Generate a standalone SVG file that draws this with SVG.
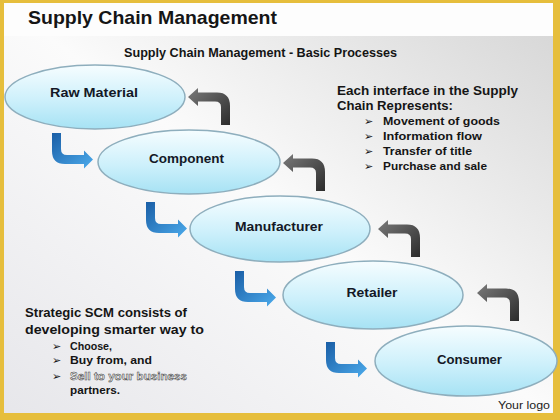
<svg xmlns="http://www.w3.org/2000/svg" width="560" height="420" viewBox="0 0 560 420">
<defs>
<linearGradient id="bg" x1="1" y1="0" x2="0" y2="1">
<stop offset="0" stop-color="#d4d4d4"/>
<stop offset="0.5" stop-color="#fbfbfb"/>
<stop offset="1" stop-color="#e6e6ea"/>
</linearGradient>
<linearGradient id="ell" x1="0" y1="0" x2="0" y2="1">
<stop offset="0" stop-color="#f6fdff"/>
<stop offset="0.55" stop-color="#cdf0fb"/>
<stop offset="1" stop-color="#a6e2f4"/>
</linearGradient>
<linearGradient id="blue" x1="0" y1="0" x2="1" y2="1">
<stop offset="0" stop-color="#1a5ea6"/>
<stop offset="1" stop-color="#4cabec"/>
</linearGradient>
<linearGradient id="gray" x1="1" y1="1" x2="0" y2="0">
<stop offset="0" stop-color="#2c2c2c"/>
<stop offset="1" stop-color="#7a7a7a"/>
</linearGradient>
<path id="barrow" d="M0,0 H9 V16 Q9,22 15,22 H32 V17.5 L41,26.5 L32,35.5 V31 H13 Q0,31 0,18 Z"/>
<path id="garrow" d="M0,0 L10,-9 V-4.5 H29 Q42,-4.5 42,9 V28 H33 V10 Q33,4.5 27,4.5 H10 V9 Z"/>
</defs>
<style>
.node ellipse{fill:url(#ell);stroke:#8eaebd;stroke-width:1.5}
.lbl{font-family:"Liberation Sans",Arial,sans-serif;font-weight:bold;font-size:12.5px;fill:#141826;text-anchor:middle}
.t{font-family:"Liberation Sans",Arial,sans-serif;font-weight:bold;fill:#151515}
.b{font-family:"DejaVu Sans",sans-serif;font-size:11px;fill:#151515}
.ba{fill:url(#blue)}
.ga{fill:url(#gray)}
</style>
<rect x="0" y="0" width="560" height="420" fill="url(#bg)"/>
<rect x="0" y="0" width="560" height="36" fill="#fdfdfd"/>
<path d="M0,0 H560 V420 H0 Z M4,3 V413 H553 V3 Z" fill="#e6be3c" fill-rule="evenodd"/>

<text class="t" x="28" y="24" font-size="19" textLength="249" lengthAdjust="spacingAndGlyphs">Supply Chain Management</text>
<text class="t" x="124" y="57" font-size="12.5" textLength="273" lengthAdjust="spacingAndGlyphs">Supply Chain Management - Basic Processes</text>

<g id="connectors">
<use href="#barrow" class="ba" x="52" y="133"/>
<use href="#barrow" class="ba" x="146" y="202"/>
<use href="#barrow" class="ba" x="235" y="271"/>
<use href="#barrow" class="ba" x="326" y="342"/>
<use href="#garrow" class="ga" x="188" y="97"/>
<use href="#garrow" class="ga" x="283" y="163"/>
<use href="#garrow" class="ga" x="378" y="229"/>
<use href="#garrow" class="ga" x="477" y="293"/>
</g>

<g id="raw-material" class="node">
<ellipse cx="95" cy="97" rx="90" ry="32"/>
<text class="lbl" x="94" y="97" textLength="88" lengthAdjust="spacingAndGlyphs">Raw Material</text>
</g>
<g id="component" class="node">
<ellipse cx="189" cy="162" rx="91" ry="32"/>
<text class="lbl" x="186.5" y="163" textLength="75" lengthAdjust="spacingAndGlyphs">Component</text>
</g>
<g id="manufacturer" class="node">
<ellipse cx="280" cy="229" rx="90" ry="33"/>
<text class="lbl" x="279" y="231" textLength="88" lengthAdjust="spacingAndGlyphs">Manufacturer</text>
</g>
<g id="retailer" class="node">
<ellipse cx="373" cy="295" rx="90" ry="34"/>
<text class="lbl" x="372" y="297" textLength="51" lengthAdjust="spacingAndGlyphs">Retailer</text>
</g>
<g id="consumer" class="node">
<ellipse cx="466" cy="361" rx="91" ry="35"/>
<text class="lbl" x="469.5" y="364" textLength="65" lengthAdjust="spacingAndGlyphs">Consumer</text>
</g>

<g id="interface-notes">
<text class="t" x="337" y="95" font-size="12.5" textLength="181" lengthAdjust="spacingAndGlyphs">Each interface in the Supply</text>
<text class="t" x="337" y="110" font-size="12.5" textLength="116" lengthAdjust="spacingAndGlyphs">Chain Represents:</text>
<text class="b" x="364" y="125">➢</text>
<text class="b" x="364" y="140">➢</text>
<text class="b" x="364" y="155">➢</text>
<text class="b" x="364" y="170">➢</text>
<text class="t" x="383" y="125" font-size="11.5" textLength="117" lengthAdjust="spacingAndGlyphs">Movement of goods</text>
<text class="t" x="383" y="140" font-size="11.5" textLength="99" lengthAdjust="spacingAndGlyphs">Information flow</text>
<text class="t" x="383" y="155" font-size="11.5" textLength="89" lengthAdjust="spacingAndGlyphs">Transfer of title</text>
<text class="t" x="383" y="170" font-size="11.5" textLength="104" lengthAdjust="spacingAndGlyphs">Purchase and sale</text>
</g>

<g id="strategic-notes">
<text class="t" x="25" y="317" font-size="13" textLength="162" lengthAdjust="spacingAndGlyphs">Strategic SCM consists of</text>
<text class="t" x="25" y="334" font-size="13" textLength="179" lengthAdjust="spacingAndGlyphs">developing smarter way to</text>
<text class="b" x="52" y="350">➢</text>
<text class="b" x="52" y="364">➢</text>
<text class="b" x="52" y="380">➢</text>
<text class="t" x="70" y="350" font-size="11.5" textLength="42" lengthAdjust="spacingAndGlyphs">Choose,</text>
<text class="t" x="70" y="364" font-size="11.5" textLength="82" lengthAdjust="spacingAndGlyphs">Buy from, and</text>
<text class="t" x="70" y="380" font-size="11.5" textLength="117" lengthAdjust="spacingAndGlyphs" style="fill:#f2f2f2;stroke:#3a3a3a;stroke-width:0.5">Sell to your business</text>
<text class="t" x="70" y="394" font-size="11.5" textLength="50" lengthAdjust="spacingAndGlyphs">partners.</text>
</g>

<text x="498" y="409" font-family="'Liberation Sans',Arial,sans-serif" font-size="11.5" fill="#222" textLength="52" lengthAdjust="spacingAndGlyphs">Your logo</text>
</svg>
